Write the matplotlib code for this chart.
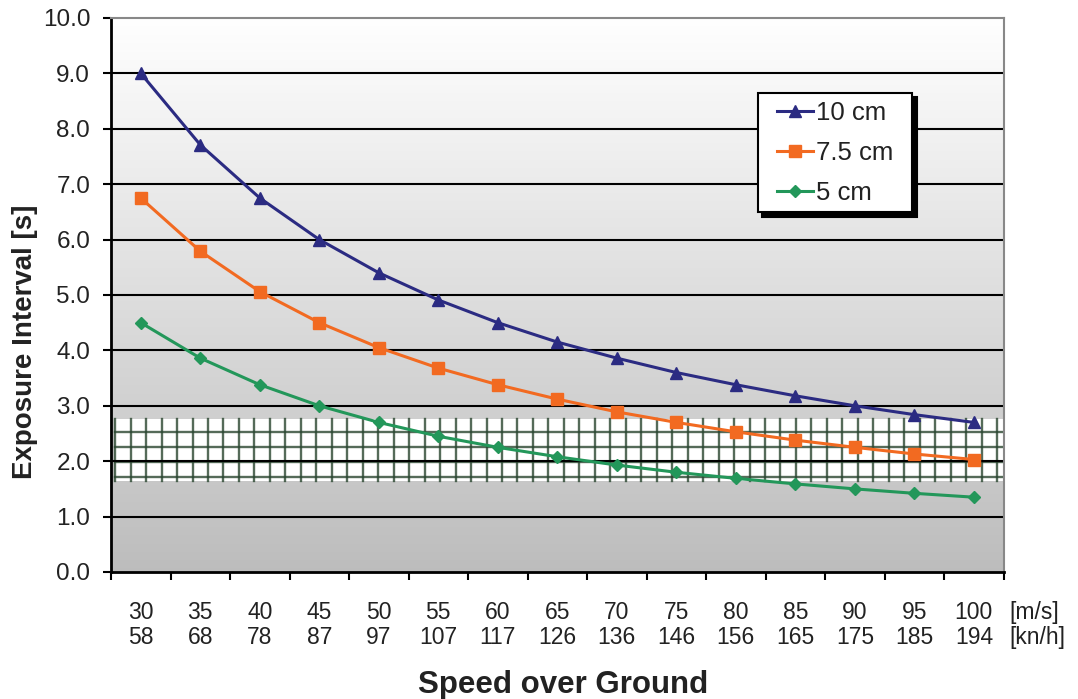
import numpy as np
import matplotlib
matplotlib.use("Agg")
import matplotlib.pyplot as plt
from matplotlib.patches import Rectangle

plt.rcParams['font.family'] = ['Liberation Sans', 'DejaVu Sans']

speed_ms = [30, 35, 40, 45, 50, 55, 60, 65, 70, 75, 80, 85, 90, 95, 100]
speed_kmh = [58, 68, 78, 87, 97, 107, 117, 126, 136, 146, 156, 165, 175, 185, 194]
s10 = [9.00, 7.71, 6.75, 6.00, 5.40, 4.91, 4.50, 4.15, 3.86, 3.60, 3.38, 3.18, 3.00, 2.84, 2.70]
s75 = [6.75, 5.79, 5.06, 4.50, 4.05, 3.68, 3.38, 3.12, 2.89, 2.70, 2.53, 2.38, 2.25, 2.13, 2.03]
s5 = [4.50, 3.86, 3.38, 3.00, 2.70, 2.45, 2.25, 2.08, 1.93, 1.80, 1.69, 1.59, 1.50, 1.42, 1.35]
band_low, band_high = 1.64, 2.76
band_rows = [1.71, 1.98, 2.25, 2.52]

fig = plt.figure(figsize=(10.78, 6.99), dpi=100)
ax = fig.add_axes([0.103, 0.1817, 0.828, 0.7926])

x = np.arange(len(speed_ms))
ax.set_xlim(-0.5, len(x) - 0.5)
ax.set_ylim(0, 10)

# gradient background
grad = np.linspace(1.0, 0.0, 256).reshape(-1, 1)
top = np.array([1.0, 1.0, 1.0])
bot = np.array([0.74, 0.74, 0.74])
img = top * grad[..., None] + bot * (1 - grad[..., None])
img = img.reshape(256, 1, 3)
ax.imshow(img, extent=[-0.5, len(x) - 0.5, 0, 10], aspect='auto', zorder=0, origin='upper')

# band
ax.add_patch(Rectangle((-0.43, band_low), len(x) - 0.07, band_high - band_low,
                       facecolor='white', edgecolor='none', zorder=1))
for yy in band_rows:
    ax.plot([-0.43, len(x) - 0.5], [yy, yy], color='#2a4630', lw=1.7, alpha=0.8, zorder=1.5)
for xx in np.arange(-0.43, len(x) - 0.5, 0.26):
    ax.plot([xx, xx], [band_low, band_high], color='#2a4630', lw=1.7, alpha=0.8, zorder=1.5)

# grid lines
for yy in range(1, 10):
    ax.axhline(yy, color='black', lw=1.5, zorder=2)

ax.plot(x, s10, color='#2b2b82', lw=2.2, marker='^', ms=9, label='10 cm', zorder=5)
ax.plot(x, s75, color='#f26a21', lw=2.2, marker='s', ms=8.5, label='7.5 cm', zorder=5)
ax.plot(x, s5, color='#23975a', lw=2.2, marker='D', ms=6.5, label='5 cm', zorder=5)

ax.set_yticks(np.arange(0, 11, 1))
ax.set_yticklabels([f"{v:.1f}" for v in range(0, 11)], fontsize=17.5, color='#222222')
ax.set_xticks(np.arange(-0.5, len(x), 1.0))
ax.set_xticklabels([])
ax.set_xticks(x, minor=True)
ax.set_xticklabels([f"{a}\n{b}" for a, b in zip(speed_ms, speed_kmh)], minor=True,
                   fontsize=16.5, color='#222222', linespacing=1.1)
ax.tick_params(axis='x', which='minor', length=0, pad=21)
ax.tick_params(axis='x', which='major', length=6, width=1.5, direction='out')
ax.tick_params(axis='y', length=6, width=1.5, direction='out', pad=9)

for s in ['left', 'bottom']:
    ax.spines[s].set_linewidth(2)
    ax.spines[s].set_color('black')
for s in ['top', 'right']:
    ax.spines[s].set_color('#888888')
    ax.spines[s].set_linewidth(1.5)

ax.text(1.007, -0.052, "[m/s]\n[kn/h]", transform=ax.transAxes, fontsize=16.5,
        color='#222222', va='top', ha='left', linespacing=1.1)

fig.text(25 / 1078, 0.511, "Exposure Interval [s]", fontsize=20, fontweight='bold',
         rotation=90, ha='center', va='center', color='#222222')
fig.text(0.522, 0.009, "Speed over Ground", fontsize=22.5, fontweight='bold',
         ha='center', va='baseline', color='#222222')

leg = ax.legend(loc='upper left', bbox_to_anchor=(0.7377, 0.8646), bbox_transform=ax.transAxes,
                borderaxespad=0, fontsize=18.5,
                frameon=True, fancybox=False, shadow={'color': 'black', 'alpha': 1.0, 'ox': 3, 'oy': -3},
                handlelength=1.4, handletextpad=0.1, borderpad=0.3, labelspacing=0.62)
frame = leg.get_frame()
frame.set_edgecolor('black')
frame.set_linewidth(1.5)
frame.set_boxstyle('square', pad=0.45)
frame.set_mutation_aspect(0.02)
for t in leg.get_texts():
    t.set_color('#222222')
leg.set_zorder(10)

fig.savefig("out.png", dpi=100)
